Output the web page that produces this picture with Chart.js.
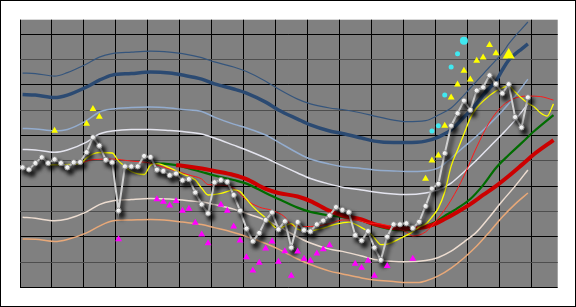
<!DOCTYPE html>
<html>
<head>
<meta charset="utf-8">
<script src="https://cdn.jsdelivr.net/npm/chart.js@4.4.0/dist/chart.umd.min.js"></script>
<style>
html, body { margin: 0; padding: 0; background: #fff; }
#wrap { width: 576px; height: 307px; position: relative; }
</style>
</head>
<body>
<div id="wrap"><canvas id="chart"></canvas></div>
<script>
// price (one value per session, index = session number)
const price = [4.74, 4.66, 4.91, 5.14, 4.91, 5.06, 4.91, 4.74, 4.94, 4.95,
   5.34, 5.93, 5.60, 5.04, 4.94, 3.03, 4.78, 4.78, 4.78, 5.19,
   5.15, 4.65, 4.60, 4.43, 4.50, 4.23, 4.28, 3.75, 3.28, 2.92,
   4.15, 4.24, 4.17, 3.65, 3.03, 2.32, 1.82, 2.15, 2.66, 2.96,
   2.29, 2.61, 1.57, 2.58, 2.26, 2.21, 2.49, 2.64, 2.84, 3.17,
   3.06, 2.97, 2.06, 1.85, 2.22, 1.57, 1.08, 2.00, 2.49, 2.49,
   2.53, 2.34, 2.59, 3.21, 3.90, 4.09, 5.30, 6.39, 6.88, 7.38,
   7.01, 7.78, 7.91, 8.38, 8.04, 7.67, 8.03, 6.73, 6.32, 7.51]

// bands, [session, value]
const bandTop = [[0, 8.47], [2, 8.45], [5, 8.35], [7, 8.49], [10, 8.83], [12, 9.10], [14, 9.24], [17, 9.30],
   [20, 9.34], [23, 9.30], [25, 9.24], [28, 9.08], [30, 8.91], [33, 8.71], [35, 8.53], [38, 8.15], [40, 7.84],
   [43, 7.44], [45, 7.25], [48, 7.09], [50, 7.03], [53, 6.89], [55, 6.77], [58, 6.61], [60, 6.55], [63, 6.59],
   [65, 6.81], [67, 7.09], [69, 7.60], [70, 7.88], [71, 8.15], [72, 8.43], [73, 8.71], [74, 8.98], [75, 9.26],
   [76, 9.62], [77, 9.93], [78, 10.21], [79, 10.49]]
const bandUpper = [[0, 7.62], [2, 7.60], [5, 7.50], [7, 7.60], [10, 7.92], [12, 8.19], [14, 8.39], [17, 8.45],
   [20, 8.51], [23, 8.47], [25, 8.39], [28, 8.23], [30, 8.04], [33, 7.84], [35, 7.68], [38, 7.32], [40, 7.01],
   [43, 6.65], [45, 6.42], [48, 6.18], [50, 6.08], [53, 5.90], [55, 5.78], [58, 5.72], [60, 5.72], [63, 5.78],
   [65, 5.94], [67, 6.22], [69, 6.73], [70, 6.97], [71, 7.28], [72, 7.60], [73, 7.88], [74, 8.15], [75, 8.59],
   [76, 8.98], [77, 9.22], [78, 9.42], [79, 9.62]]
const bandHigh = [[0, 6.28], [2, 6.26], [5, 6.19], [7, 6.24], [10, 6.59], [12, 6.93], [14, 7.05], [17, 7.11],
   [20, 7.13], [23, 7.09], [25, 7.03], [28, 6.95], [30, 6.73], [33, 6.45], [35, 6.30], [38, 6.02], [40, 5.74],
   [43, 5.31], [45, 5.07], [48, 4.87], [50, 4.77], [53, 4.70], [55, 4.64], [58, 4.60], [60, 4.58], [63, 4.60],
   [65, 4.72], [67, 5.11], [69, 5.55], [71, 5.98], [73, 6.45], [75, 6.97], [77, 7.56], [79, 8.23]]
const bandMid = [[0, 5.45], [2, 5.43], [5, 5.34], [7, 5.43], [10, 5.74], [12, 6.06], [14, 6.18], [17, 6.24],
   [20, 6.24], [23, 6.20], [25, 6.16], [28, 6.06], [30, 5.90], [33, 5.62], [35, 5.43], [38, 5.11], [40, 4.87],
   [43, 4.52], [45, 4.30], [48, 4.08], [50, 3.96], [53, 3.85], [55, 3.77], [58, 3.69], [60, 3.67], [63, 3.73],
   [65, 3.85], [67, 4.12], [69, 4.56], [71, 5.03], [73, 5.55], [75, 6.06], [77, 6.61], [79, 7.25]]
const bandLow = [[0, 2.77], [2, 2.73], [5, 2.63], [7, 2.70], [10, 2.98], [12, 3.27], [14, 3.41], [17, 3.47],
   [20, 3.51], [23, 3.49], [25, 3.45], [28, 3.37], [30, 3.27], [33, 3.09], [35, 2.92], [38, 2.66], [40, 2.42],
   [43, 1.99], [45, 1.75], [48, 1.51], [50, 1.42], [53, 1.24], [55, 1.10], [58, 1.02], [60, 1.01], [63, 1.06],
   [65, 1.18], [67, 1.43], [69, 1.79], [71, 2.19], [73, 2.78], [75, 3.41], [77, 4.00], [79, 4.64]]
const bandBottom = [[0, 1.91], [2, 1.90], [5, 1.81], [7, 1.89], [10, 2.15], [12, 2.42], [14, 2.62], [17, 2.66],
   [20, 2.68], [23, 2.64], [25, 2.58], [28, 2.48], [30, 2.36], [33, 2.17], [35, 2.01], [38, 1.73], [40, 1.51],
   [43, 1.12], [45, 0.90], [48, 0.64], [50, 0.53], [53, 0.37], [55, 0.29], [58, 0.23], [60, 0.19], [62, 0.19],
   [63, 0.25], [65, 0.45], [67, 0.76], [69, 1.16], [71, 1.63], [73, 2.19], [75, 2.78], [77, 3.29], [79, 3.73]]

// moving averages, [session, value]
const maLong = [[24, 4.83], [25, 4.81], [28, 4.70], [30, 4.60], [33, 4.44], [35, 4.28], [38, 3.89], [40, 3.73],
   [43, 3.59], [45, 3.41], [48, 3.02], [50, 2.84], [53, 2.68], [55, 2.50], [58, 2.34], [60, 2.32], [62, 2.34],
   [64, 2.46], [66, 2.70], [68, 2.98], [70, 3.29], [72, 3.65], [74, 4.00], [76, 4.40], [78, 4.83], [80, 5.27],
   [83, 5.82]]
const maMid = [[20, 4.91], [22, 4.89], [24, 4.83], [26, 4.70], [28, 4.56], [30, 4.42], [33, 4.24], [35, 4.10],
   [38, 3.73], [40, 3.49], [43, 3.15], [45, 2.98], [48, 2.84], [50, 2.78], [53, 2.64], [55, 2.46], [58, 2.28],
   [60, 2.26], [62, 2.32], [64, 2.52], [66, 2.82], [68, 3.13], [70, 3.49], [72, 4.04], [74, 4.72], [76, 5.23],
   [78, 5.70], [80, 6.18], [83, 6.81]]
const maShort = [[9, 4.89], [11, 5.05], [14, 5.07], [17, 4.99], [20, 4.91], [22, 4.75], [24, 4.60], [26, 4.44],
   [28, 4.28], [29, 4.06], [31, 4.04], [33, 3.92], [35, 3.45], [37, 3.17], [39, 3.04], [41, 2.78], [42, 2.46],
   [44, 2.40], [46, 2.42], [48, 2.52], [50, 2.66], [52, 2.66], [54, 2.54], [56, 2.50], [58, 2.38], [60, 2.19],
   [61, 2.03], [63, 2.19], [65, 2.74], [67, 3.45], [69, 4.40], [71, 5.55], [73, 6.53], [75, 7.17], [77, 7.48],
   [79, 7.56], [81, 7.54], [83, 7.40]]
const maFast = [[4, 4.83], [6, 4.85], [9, 4.89], [10, 5.11], [11, 5.27], [12, 5.33], [14, 5.31], [15, 4.99],
   [16, 4.79], [17, 4.58], [19, 4.46], [20, 4.83], [21, 4.89], [23, 4.72], [25, 4.48], [27, 4.24], [28, 3.92],
   [29, 3.65], [31, 3.71], [33, 3.85], [34, 3.79], [35, 3.49], [36, 3.19], [38, 2.74], [40, 2.32], [41, 2.42],
   [42, 2.52], [43, 2.30], [45, 2.23], [47, 2.34], [49, 2.50], [51, 2.58], [53, 2.36], [54, 2.21], [55, 1.95],
   [56, 1.69], [57, 1.71], [59, 1.93], [61, 2.19], [62, 2.38], [63, 2.50], [64, 2.78], [65, 3.13], [66, 3.77],
   [67, 4.79], [68, 5.43], [69, 6.06], [70, 6.69], [71, 7.09], [72, 7.36], [74, 7.76], [75, 7.88], [76, 7.96],
   [77, 7.72], [78, 7.48], [79, 7.28], [80, 7.13], [81, 6.89], [82, 6.77], [83, 7.25]]

// signals, [session, value]
const buySignals = [[5, 6.19], [10, 6.47], [11, 7.05], [12, 6.74], [63, 4.29], [64, 5.01], [65, 5.21], [66, 6.39],
   [67, 7.50], [68, 8.02], [69, 8.56], [70, 8.22], [71, 8.96], [72, 9.09], [73, 9.58], [74, 9.25]]
const buyStrong = [[76, 9.18]]
const sellSignals = [[15, 1.90], [21, 3.48], [22, 3.38], [23, 3.23], [24, 3.41], [25, 3.03], [26, 3.11], [27, 2.55],
   [28, 2.09], [29, 1.74], [31, 3.26], [32, 3.03], [33, 2.40], [34, 1.85], [35, 1.19], [36, 0.66], [37, 0.97],
   [38, 1.53], [39, 1.81], [40, 1.01], [41, 1.43], [42, 0.46], [43, 1.42], [44, 1.13], [45, 1.05], [46, 1.34],
   [47, 1.50], [48, 1.66], [52, 0.93], [53, 0.77], [54, 1.05], [55, 0.46], [57, 0.84], [61, 1.13]]
const breakouts = [[64, 6.18], [65, 6.39], [66, 7.60], [67, 8.71], [68, 9.23]]
const breakoutTop = [[69, 9.75]]

const toPts = arr => arr.map(([x, y]) => ({x, y}))
const xGrid = Array.from({length: 17}, (_, k) => 5 * k - 0.406)
const yGrid = Array.from({length: 11}, (_, k) => k)

const frame = {
   id: "frame",
   beforeDraw(chart) {
      const {ctx, chartArea: a} = chart
      ctx.save()
      ctx.fillStyle = "#fff"
      ctx.fillRect(0, 0, chart.width, chart.height)
      ctx.fillStyle = "#808080"
      ctx.fillRect(a.left, a.top, a.right - a.left, a.bottom - a.top)
      ctx.restore()
   },
   afterDraw(chart) {
      const ctx = chart.ctx
      ctx.save()
      ctx.strokeStyle = "#000"
      ctx.lineWidth = 1
      ctx.strokeRect(0.5, 0.5, chart.width - 1, chart.height - 1)
      ctx.restore()
   }
}

// dark drop shadow under the price line
const shadow = {
   id: "shadow",
   beforeDatasetDraw(chart, args) {
      if (!chart.data.datasets[args.index].shadow) return
      const ctx = chart.ctx
      ctx.save()
      ctx.shadowColor = "rgba(0,0,0,0.9)"
      ctx.shadowBlur = 4
      ctx.shadowOffsetX = 3
      ctx.shadowOffsetY = 4
   },
   afterDatasetDraw(chart, args) {
      if (chart.data.datasets[args.index].shadow) chart.ctx.restore()
   }
}

const line = (data, color, width, order) => ({
   data: toPts(data),
   borderColor: color,
   borderWidth: width,
   pointRadius: 0,
   fill: false,
   cubicInterpolationMode: "monotone",
   order: order
})

const marks = (data, style, radius, color, order) => ({
   data: toPts(data),
   showLine: false,
   pointStyle: style,
   pointRadius: radius,
   pointBackgroundColor: color,
   pointBorderColor: color,
   pointBorderWidth: 0,
   order: order
})

new Chart(document.getElementById("chart"), {
   type: "line",
   data: {
      datasets: [
         marks(breakouts, "circle", 2.5, "#40e8f0", 0),
         marks(breakoutTop, "circle", 4, "#40e8f0", 0),
         marks(buySignals, "triangle", 4, "#ffff00", 0),
         marks(buyStrong, "triangle", 7, "#ffff00", 0),
         marks(sellSignals, "triangle", 4, "#ff00ff", 0),
         {
            data: price.map((y, x) => ({x, y})),
            borderColor: "#cfcfcf",
            borderWidth: 2,
            tension: 0,
            pointRadius: 2.6,
            pointBackgroundColor: "#fff",
            pointBorderColor: "#8c8c8c",
            pointBorderWidth: 1,
            shadow: true,
            order: 1
         },
         line(maFast, "#ffff00", 1.3, 2),
         line(maShort, "#ff1a1a", 1, 3),
         line(maLong, "#cc0000", 4, 4),
         line(maMid, "#006c00", 2.2, 5),
         line(bandTop, "#35557c", 1.2, 6),
         line(bandUpper, "#2b4a72", 3.5, 7),
         line(bandHigh, "#93acce", 1.5, 8),
         line(bandMid, "#e4e4ee", 1.5, 9),
         line(bandLow, "#ecdcd0", 1.5, 10),
         line(bandBottom, "#e8a878", 1.5, 11)
      ]
   },
   options: {
      responsive: true,
      maintainAspectRatio: false,
      animation: false,
      layout: {
         padding: {left: 20, right: 18.3, top: 19.7, bottom: 19.7}
      },
      plugins: {
         legend: {display: false},
         tooltip: {enabled: false}
      },
      scales: {
         x: {
            type: "linear",
            min: -0.406,
            max: 83.66,
            afterBuildTicks: s => { s.ticks = xGrid.map(v => ({value: v})) },
            ticks: {display: false},
            grid: {color: "#000", lineWidth: 1, drawTicks: false},
            border: {display: false}
         },
         y: {
            min: 0,
            max: 10.58,
            afterBuildTicks: s => { s.ticks = yGrid.map(v => ({value: v})) },
            ticks: {display: false},
            grid: {
               color: c => c.tick.value % 2 === 0 ? "#000" : "#4e4e4e",
               lineWidth: 1,
               drawTicks: false
            },
            border: {display: false}
         }
      }
   },
   plugins: [frame, shadow]
})
</script>
</body>
</html>
